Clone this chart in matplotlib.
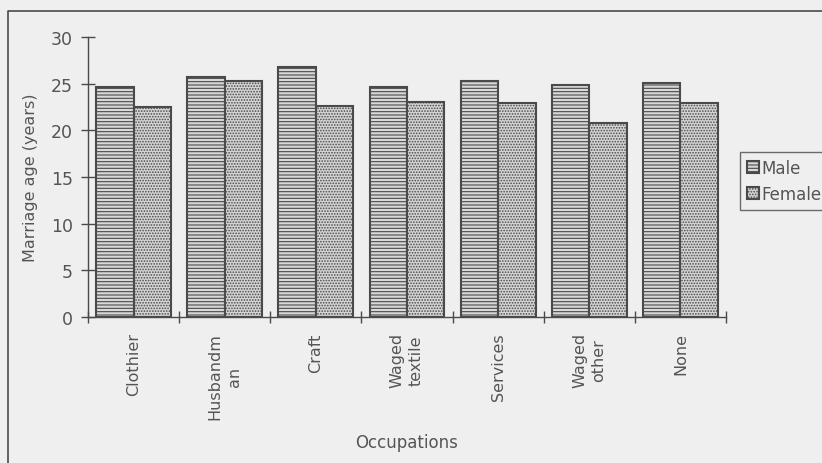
import matplotlib
matplotlib.use("Agg")
import matplotlib.pyplot as plt
import numpy as np
from matplotlib.lines import Line2D

categories = ["Clothier", "Husbandm\nan", "Craft", "Waged\ntextile", "Services", "Waged\nother", "None"]
male = [24.6, 25.7, 26.8, 24.6, 25.3, 24.9, 25.1]
female = [22.5, 25.3, 22.6, 23.0, 22.9, 20.8, 22.9]
yticks = [0, 5, 10, 15, 20, 25, 30]

bg = "#efefef"
ink = "#4a4a4a"
txt = "#555555"
plt.rcParams["font.family"] = ["DejaVu Sans"]
plt.rcParams["hatch.linewidth"] = 0.8
plt.rcParams["hatch.color"] = "#6a6a6a"

fig = plt.figure(figsize=(8.22, 4.64), dpi=100, facecolor=bg)
ax = fig.add_axes([88/822, 1-318/464, (726-88)/822, (318-38)/464])
ax.set_facecolor(bg)

x = np.arange(len(categories))
w = 0.41
bm = ax.bar(x - w/2, male, width=w, color="#d8d8d8", edgecolor=ink, linewidth=1.5,
            hatch="-----", label="Male")
bf = ax.bar(x + w/2, female, width=w, color="#d4d4d4", edgecolor=ink, linewidth=1.5,
            hatch="......", label="Female")

ax.set_xlim(-0.5, len(categories) - 0.5)
ax.set_ylim(0, 30)
ax.set_yticks(yticks)
ax.set_xticks(x)
ax.set_xticklabels(categories, rotation=90, ha="center", va="top", multialignment="center",
                   fontsize=11.5, color=txt, linespacing=1.35)
ax.set_xticks(np.arange(-0.5, len(categories)), minor=True)
ax.tick_params(axis="x", which="major", length=0, pad=11)
ax.tick_params(axis="x", which="minor", length=9, direction="inout", color=ink, width=1)
ax.tick_params(axis="y", length=10, direction="inout", color=ink, width=1, labelsize=12.5,
               labelcolor=txt, pad=6)
for s in ["top", "right"]:
    ax.spines[s].set_visible(False)
for s in ["left", "bottom"]:
    ax.spines[s].set_color(ink)
    ax.spines[s].set_linewidth(1.0)

ax.set_ylabel("Marriage age (years)", fontsize=11.5, color=txt, labelpad=9)
ax.set_xlabel("Occupations", fontsize=12, color=txt, labelpad=10)

leg = fig.legend(handles=[bm, bf], labels=["Male", "Female"], loc="upper left",
                 bbox_to_anchor=(740/822, 1-153/464), fontsize=12, frameon=True,
                 fancybox=False, handlelength=0.75, handleheight=0.75, handletextpad=0.15,
                 borderpad=0.4, labelspacing=0.5, borderaxespad=0)
leg.get_frame().set_edgecolor(ink)
leg.get_frame().set_facecolor(bg)
leg.get_frame().set_linewidth(1.0)
for t in leg.get_texts():
    t.set_color(txt)

fig.add_artist(Line2D([8/822, 8/822, 1.0], [0.0, 1-12/464, 1-12/464],
                      transform=fig.transFigure, color=ink, linewidth=1.2))

fig.savefig("out.png", dpi=100, facecolor=bg)
